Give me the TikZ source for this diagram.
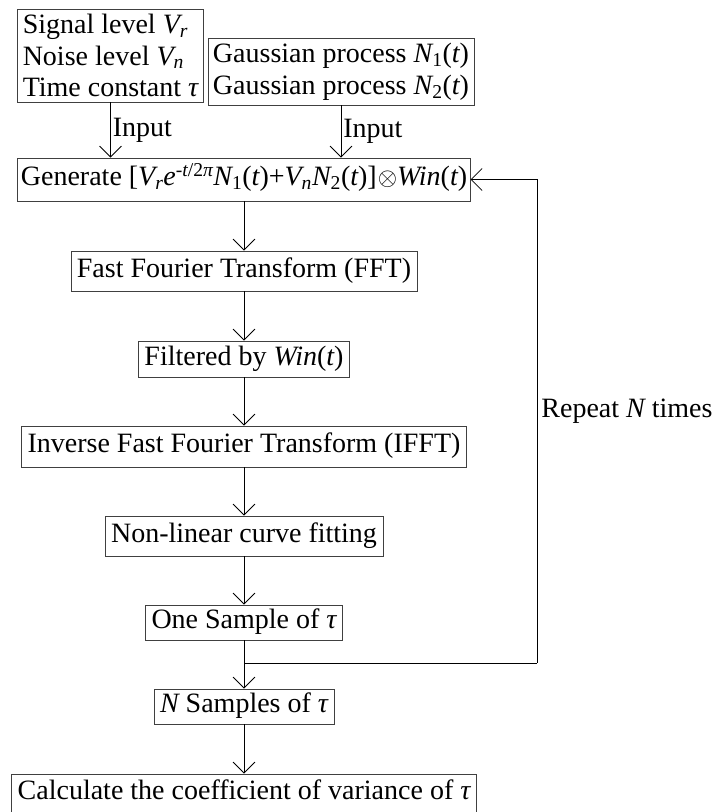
\documentclass[tikz,border=0pt]{standalone}
\usepackage{fontspec}
\setmainfont{Liberation Serif}
\usetikzlibrary{arrows.meta}
\newcommand{\vi}[1]{{\itshape #1}}

\begin{document}
\begin{tikzpicture}[x=1pt,y=-1pt,font=\fontsize{28}{31.7}\selectfont,
    >={Straight Barb[length=11pt,width=22pt]},
    blk/.style={draw=black!75,line width=0.8pt,inner xsep=6pt,inner ysep=4pt,text height=19pt,text depth=7pt},
    multi/.style={draw=black!75,line width=0.8pt,align=left,inner xsep=5pt,inner ysep=5pt},
    flow/.style={->,line width=0.8pt}]
        \useasboundingbox(0,0)rectangle(716,812);
        \node[multi](par)at(110.5,55.5){Signal level \vi{V}\textsubscript{\vi{r}}\\Noise level \vi{V}\textsubscript{\vi{n}}\\Time constant \vi{τ}};
        \node[multi](gau)at(341,71.5){Gaussian process \vi{N}\textsubscript{1}(\vi{t})\\Gaussian process \vi{N}\textsubscript{2}(\vi{t})};
        \node[blk,inner xsep=3pt,minimum height=43pt](gen)at(244,179.5){Generate [\vi{V}\textsubscript{\vi{r}}\vi{e}\textsuperscript{-\vi{t}/2\vi{π}}\vi{N}\textsubscript{1}(\vi{t})+\vi{V}\textsubscript{\vi{n}}\vi{N}\textsubscript{2}(\vi{t})]\kern1pt$\otimes$\vi{Win}(\vi{t})};
        \node[blk,minimum height=40pt](fft)at(244,271){Fast Fourier Transform (FFT)};
        \node[blk,minimum height=36pt](fil)at(244,359){Filtered by \vi{Win}(\vi{t})};
        \node[blk,minimum height=41pt](ifft)at(244,446.5){Inverse Fast Fourier Transform (IFFT)};
        \node[blk,minimum height=40pt](fit)at(244,536){Non-linear curve fitting};
        \node[blk,minimum height=35pt](one)at(244,622.5){One Sample of \vi{τ}};
        \node[blk,minimum height=35pt](nsam)at(244,706.5){\vi{N} Samples of \vi{τ}};
        \node[blk,minimum height=38pt](cv)at(244,793){Calculate the coefficient of variance of \vi{τ}};

        \draw[flow](par.south)--(par.south|-gen.north)node[midway,right,inner sep=2pt]{Input};
        \draw[flow](gau.south)--(gau.south|-gen.north)node[midway,right,inner sep=2pt]{Input};
        \draw[flow](gen.south)--(fft.north);
        \draw[flow](fft.south)--(fil.north);
        \draw[flow](fil.south)--(ifft.north);
        \draw[flow](ifft.south)--(fit.north);
        \draw[flow](fit.south)--(one.north);
        \draw[flow](one.south)--(nsam.north);
        \draw[flow](nsam.south)--(cv.north);

        \coordinate(merge)at(244,663);
        \coordinate(turn)at(537,663);
        \draw[line width=0.8pt](merge)--(turn);
        \draw[flow](turn)|-(gen.east)node[pos=0.26,right,inner sep=4pt]{Repeat \vi{N} times};
    \end{tikzpicture}
\end{document}
